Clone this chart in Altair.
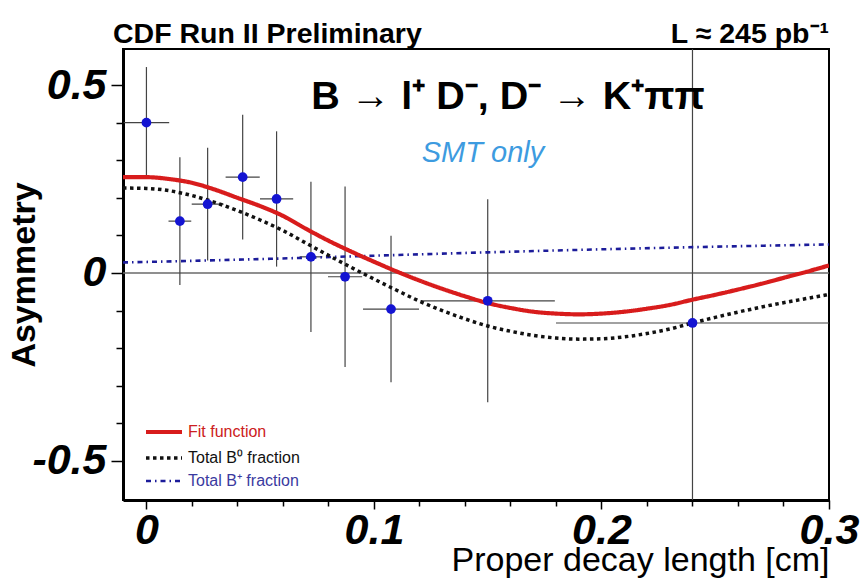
import altair as alt
import pandas as pd

# ---------------- data ----------------
pt_x = [0.0, 0.0147, 0.0269, 0.0423, 0.0572, 0.0723, 0.0873, 0.1075, 0.150, 0.240]
pt_y = [0.400, 0.138, 0.183, 0.255, 0.197, 0.043, -0.010, -0.096, -0.074, -0.133]
pt_yerr = [0.148, 0.170, 0.150, 0.166, 0.180, 0.200, 0.240, 0.195, 0.270, 0.750]
pt_xerr = [0.010, 0.005, 0.007, 0.0075, 0.0073, 0.005, 0.0075, 0.0123, 0.0295, 0.060]

curve_x = [-0.0103, 0.0, 0.01, 0.02, 0.03, 0.04, 0.05, 0.06, 0.07, 0.08, 0.09, 0.10,
           0.11, 0.12, 0.13, 0.14, 0.15, 0.16, 0.17, 0.18, 0.19, 0.20, 0.21, 0.22,
           0.23, 0.24, 0.25, 0.26, 0.27, 0.28, 0.29, 0.30]
fit_y = [0.255, 0.255, 0.250, 0.240, 0.222, 0.200, 0.178, 0.152, 0.118, 0.086, 0.057, 0.030,
         0.004, -0.020, -0.042, -0.062, -0.080, -0.093, -0.103, -0.108, -0.110, -0.108, -0.103, -0.095,
         -0.085, -0.071, -0.058, -0.044, -0.029, -0.013, 0.003, 0.020]
b0_y = [0.226, 0.225, 0.219, 0.206, 0.188, 0.166, 0.141, 0.113, 0.080, 0.047, 0.015, -0.016,
        -0.046, -0.075, -0.100, -0.122, -0.141, -0.155, -0.166, -0.173, -0.176, -0.175, -0.170, -0.161,
        -0.149, -0.133, -0.118, -0.104, -0.091, -0.079, -0.068, -0.057]
bplus_x = [-0.0103, 0.05, 0.10, 0.15, 0.20, 0.25, 0.30]
bplus_y = [0.028, 0.037, 0.046, 0.055, 0.063, 0.070, 0.076]

series_names = ["Fit function", "Total B\u2070 fraction", "Total B\u207a fraction"]
series_colors = ["#d81c1c", "#111111", "#1c1c9a"]
label_colors = ["#cc2020", "#111111", "#3a3aa0"]
series_dash = [[1, 0], [3.5, 3.5], [5, 4, 1.5, 4]]
series_width = [4.2, 3.5, 2.6]

x_ticks = [0.0, 0.02, 0.04, 0.06, 0.08, 0.1, 0.12, 0.14, 0.16, 0.18, 0.2, 0.22, 0.24, 0.26, 0.28, 0.3]
y_ticks = [-0.5, -0.4, -0.3, -0.2, -0.1, 0.0, 0.1, 0.2, 0.3, 0.4, 0.5]

title_left = "CDF Run II Preliminary"
title_right = "L \u2248 245 pb\u207b\u00b9"
title_main = "B \u2192 l\u207a D\u207b, D\u207b \u2192 K\u207a\u03c0\u03c0"
title_tag = "SMT only"

# ---------------- build tables ----------------
pts = pd.DataFrame({"x": pt_x, "y": pt_y})
pts["ylo"] = [a - b for a, b in zip(pt_y, pt_yerr)]
pts["yhi"] = [a + b for a, b in zip(pt_y, pt_yerr)]
pts["xlo"] = [a - b for a, b in zip(pt_x, pt_xerr)]
pts["xhi"] = [a + b for a, b in zip(pt_x, pt_xerr)]

curves = [
    pd.DataFrame({"x": curve_x, "y": fit_y}),
    pd.DataFrame({"x": curve_x, "y": b0_y}),
    pd.DataFrame({"x": bplus_x, "y": bplus_y}),
]

W, H = 706, 451
FONT = "Liberation Sans"

xscale = alt.Scale(domain=[-0.0103, 0.3], nice=False, zero=False)
yscale = alt.Scale(domain=[-0.604, 0.596], nice=False, zero=False)

x_axis = alt.Axis(
    values=x_ticks,
    labelExpr="abs(datum.value*10 - round(datum.value*10)) < 0.001 ? format(datum.value, '~g') : ''",
    tickSize={"condition": {"test": "abs(datum.value*10 - round(datum.value*10)) < 0.001", "value": 9}, "value": 6},
    tickColor="black", tickWidth=1.5,
    domainColor="black", domainWidth=3,
    labelFont=FONT, labelFontSize=43, labelFontWeight="bold", labelFontStyle="italic",
    labelColor="black", labelPadding=0, labelOverlap=False, labelFlush=False,
    title="Proper decay length [cm]", titleFont=FONT, titleFontSize=34,
    titleFontWeight="normal", titleColor="black", titleAnchor="end", titlePadding=-9,
    grid=False,
)
y_axis = alt.Axis(
    values=y_ticks,
    labelExpr="abs(datum.value*2 - round(datum.value*2)) < 0.001 ? replace(format(datum.value, '~g'), '\u2212', '-') : ''",
    tickSize={"condition": {"test": "abs(datum.value*2 - round(datum.value*2)) < 0.001", "value": 12}, "value": 7},
    tickColor="black", tickWidth=1.5,
    domainColor="black", domainWidth=3,
    labelFont=FONT, labelFontSize=43, labelFontWeight="bold", labelFontStyle="italic",
    labelColor="black", labelPadding=5, labelOverlap=False, labelFlush=False,
    title="Asymmetry", titleFont=FONT, titleFontSize=34, titleFontWeight="bold",
    titleColor="black", titlePadding=-10,
    grid=False,
)


def X(field="x"):
    return alt.X(f"{field}:Q", scale=xscale, axis=x_axis)


def Y(field="y"):
    return alt.Y(f"{field}:Q", scale=yscale, axis=y_axis)


layers = []

zero = alt.Chart(pd.DataFrame({"y": [0.0]})).mark_rule(color="#6a6a6a", strokeWidth=1.5).encode(y=Y())
layers.append(zero)

vbars = alt.Chart(pts).mark_rule(color="#444444", strokeWidth=1.2, clip=True).encode(
    x=X(), y=Y("ylo"), y2="yhi:Q")
hbars = alt.Chart(pts).mark_rule(color="#444444", strokeWidth=1.2, clip=True).encode(
    x=X("xlo"), x2="xhi:Q", y=Y())
layers += [vbars, hbars]

for i in [2, 1, 0]:
    ln = alt.Chart(curves[i]).mark_line(
        color=series_colors[i], strokeWidth=series_width[i], strokeDash=series_dash[i],
        clip=True, interpolate="monotone"
    ).encode(x=X(), y=Y())
    layers.append(ln)

dots = alt.Chart(pts).mark_circle(size=95, color="#1414d2", opacity=1).encode(x=X(), y=Y())
layers.append(dots)

# manual legend
one = pd.DataFrame({"a": [0]})
leg_y = [383, 409, 432]
for i in range(3):
    layers.append(
        alt.Chart(one).mark_rule(color=series_colors[i], strokeWidth=series_width[i],
                                 strokeDash=series_dash[i]).encode(
            x=alt.value(23), x2=alt.value(59), y=alt.value(leg_y[i]))
    )
    layers.append(
        alt.Chart(one).mark_text(text=series_names[i], font=FONT, fontSize=16, color=label_colors[i],
                                 align="left", baseline="middle").encode(
            x=alt.value(65), y=alt.value(leg_y[i]))
    )

# annotations
layers.append(alt.Chart(one).mark_text(text=title_left, font=FONT, fontSize=28.5, fontWeight="bold",
                                       align="left", baseline="alphabetic", color="black").encode(
    x=alt.value(-10), y=alt.value(-6)))
layers.append(alt.Chart(one).mark_text(text=title_right, font=FONT, fontSize=28.5, fontWeight="bold",
                                       align="right", baseline="alphabetic", color="black").encode(
    x=alt.value(706), y=alt.value(-6)))
layers.append(alt.Chart(one).mark_text(text=title_main, font=FONT, fontSize=39.5, fontWeight="bold",
                                       align="center", baseline="alphabetic", color="black").encode(
    x=alt.value(385), y=alt.value(60)))
layers.append(alt.Chart(one).mark_text(text=title_tag, font=FONT, fontSize=29, fontStyle="italic",
                                       align="center", baseline="alphabetic", color="#3d9be0").encode(
    x=alt.value(360), y=alt.value(113)))

chart = alt.layer(*layers).properties(
    width=W, height=H,
    autosize=alt.AutoSizeParams(type="none"),
    padding={"left": 123, "top": 49, "right": 36, "bottom": 80},
    background="white",
).configure_view(stroke="black", strokeWidth=2)

chart.save("out.html", embed_options={"renderer": "svg", "actions": False})
